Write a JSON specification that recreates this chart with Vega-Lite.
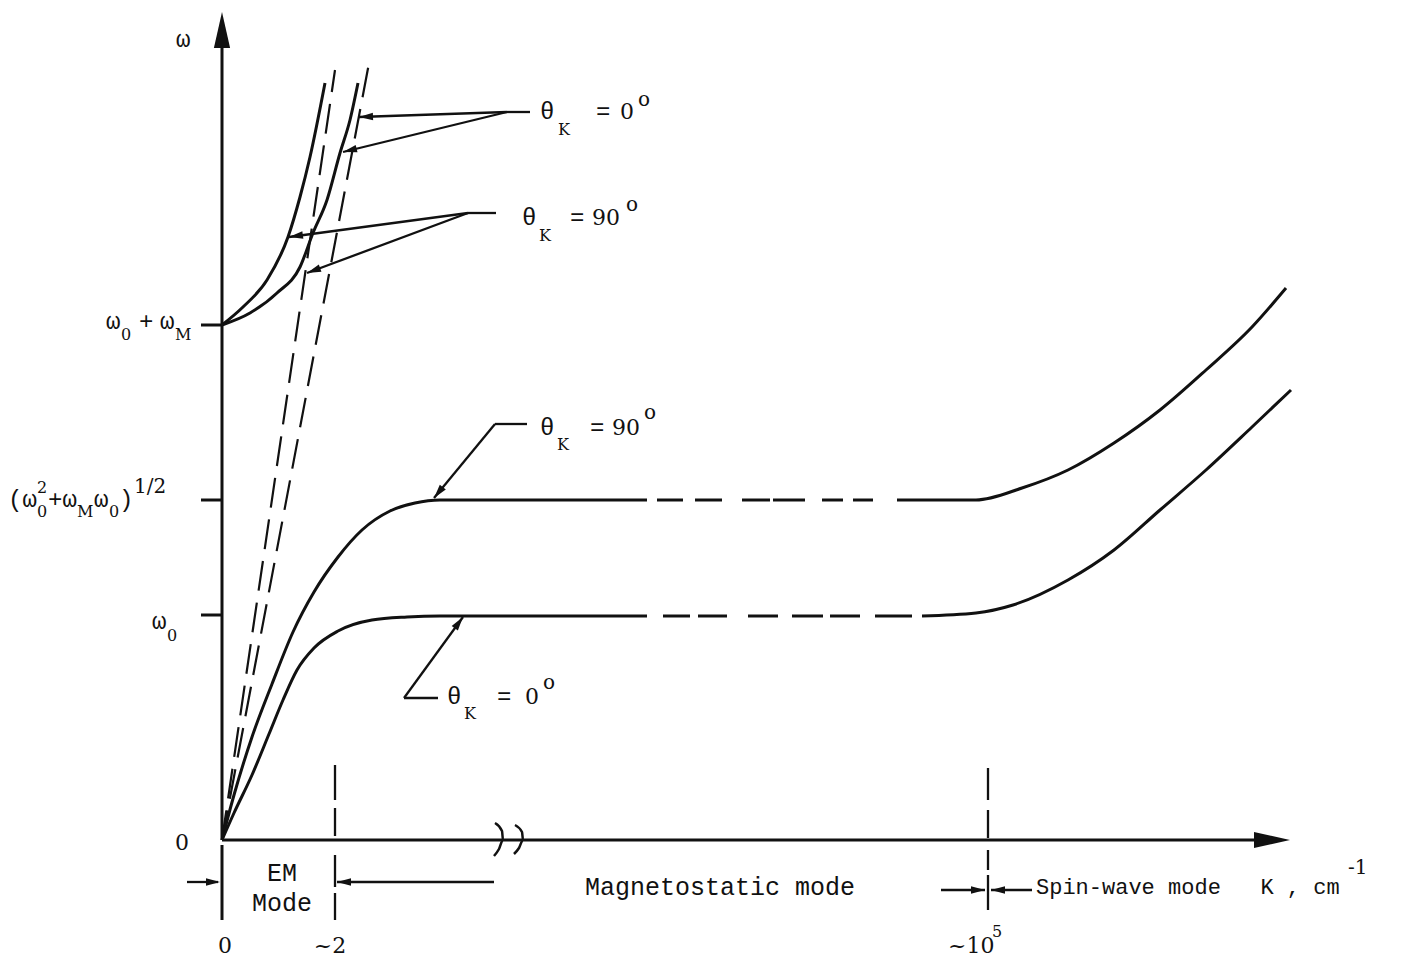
{
  "$schema": "https://vega.github.io/schema/vega-lite/v6.json",
  "width": 1421,
  "height": 962,
  "padding": 0,
  "autosize": "none",
  "background": "white",
  "config": {"view": {"stroke": null}},
  "datasets": {
    "curves": [
      {"c": "upper0", "x": 0, "y": 515}, {"c": "upper0", "x": 28, "y": 527}, {"c": "upper0", "x": 55, "y": 547}, {"c": "upper0", "x": 78, "y": 573}, {"c": "upper0", "x": 91, "y": 607}, {"c": "upper0", "x": 105, "y": 640}, {"c": "upper0", "x": 118, "y": 687}, {"c": "upper0", "x": 128, "y": 720}, {"c": "upper0", "x": 136, "y": 757},
      {"c": "upper90", "x": 0, "y": 515}, {"c": "upper90", "x": 21, "y": 533}, {"c": "upper90", "x": 45, "y": 560}, {"c": "upper90", "x": 66, "y": 603}, {"c": "upper90", "x": 78, "y": 643}, {"c": "upper90", "x": 88, "y": 683}, {"c": "upper90", "x": 103, "y": 757},
      {"c": "low90", "x": 0, "y": 0}, {"c": "low90", "x": 12, "y": 45}, {"c": "low90", "x": 30, "y": 103}, {"c": "low90", "x": 50, "y": 156}, {"c": "low90", "x": 71, "y": 208}, {"c": "low90", "x": 92, "y": 248}, {"c": "low90", "x": 116, "y": 283}, {"c": "low90", "x": 140, "y": 310}, {"c": "low90", "x": 168, "y": 329}, {"c": "low90", "x": 193, "y": 337}, {"c": "low90", "x": 218, "y": 340}, {"c": "low90", "x": 300, "y": 340}, {"c": "low90", "x": 425, "y": 340},
      {"c": "low0", "x": 0, "y": 0}, {"c": "low0", "x": 12, "y": 27}, {"c": "low0", "x": 30, "y": 65}, {"c": "low0", "x": 47, "y": 106}, {"c": "low0", "x": 61, "y": 140}, {"c": "low0", "x": 75, "y": 170}, {"c": "low0", "x": 92, "y": 192}, {"c": "low0", "x": 116, "y": 209}, {"c": "low0", "x": 150, "y": 220}, {"c": "low0", "x": 185, "y": 223}, {"c": "low0", "x": 218, "y": 224}, {"c": "low0", "x": 300, "y": 224}, {"c": "low0", "x": 425, "y": 224},
      {"c": "sw90", "x": 675, "y": 340}, {"c": "sw90", "x": 754, "y": 340}, {"c": "sw90", "x": 800, "y": 352}, {"c": "sw90", "x": 846, "y": 370}, {"c": "sw90", "x": 892, "y": 397}, {"c": "sw90", "x": 938, "y": 430}, {"c": "sw90", "x": 984, "y": 470}, {"c": "sw90", "x": 1030, "y": 513}, {"c": "sw90", "x": 1064, "y": 552},
      {"c": "sw0", "x": 700, "y": 224}, {"c": "sw0", "x": 754, "y": 227}, {"c": "sw0", "x": 791, "y": 235}, {"c": "sw0", "x": 846, "y": 260}, {"c": "sw0", "x": 892, "y": 290}, {"c": "sw0", "x": 938, "y": 330}, {"c": "sw0", "x": 984, "y": 370}, {"c": "sw0", "x": 1030, "y": 413}, {"c": "sw0", "x": 1069, "y": 450}
    ],
    "segs": [
      {"x": 0, "y": 0, "x2": 0, "y2": 800},
      {"x": 0, "y": 0, "x2": 1040, "y2": 0},
      {"x": 0, "y": -5, "x2": 0, "y2": -80},
      {"x": -21, "y": 515, "x2": 0, "y2": 515},
      {"x": -21, "y": 340, "x2": 0, "y2": 340},
      {"x": -21, "y": 225, "x2": 0, "y2": 225},
      {"x": 435, "y": 340, "x2": 461, "y2": 340},
      {"x": 473, "y": 340, "x2": 500, "y2": 340},
      {"x": 520, "y": 340, "x2": 548, "y2": 340},
      {"x": 551, "y": 340, "x2": 583, "y2": 340},
      {"x": 600, "y": 340, "x2": 621, "y2": 340},
      {"x": 631, "y": 340, "x2": 651, "y2": 340},
      {"x": 441, "y": 224, "x2": 468, "y2": 224},
      {"x": 476, "y": 224, "x2": 505, "y2": 224},
      {"x": 526, "y": 224, "x2": 556, "y2": 224},
      {"x": 570, "y": 224, "x2": 601, "y2": 224},
      {"x": 608, "y": 224, "x2": 638, "y2": 224},
      {"x": 653, "y": 224, "x2": 690, "y2": 224}
    ],
    "thin": [
      {"x": 285, "y": 728, "x2": 308, "y2": 728},
      {"x": 285, "y": 728, "x2": 137, "y2": 723},
      {"x": 285, "y": 728, "x2": 121, "y2": 688},
      {"x": 246, "y": 627, "x2": 274, "y2": 627},
      {"x": 246, "y": 627, "x2": 67, "y2": 603},
      {"x": 246, "y": 627, "x2": 85, "y2": 567},
      {"x": 273, "y": 416, "x2": 305, "y2": 416},
      {"x": 273, "y": 416, "x2": 212, "y2": 342},
      {"x": 182, "y": 142, "x2": 216, "y2": 142},
      {"x": 182, "y": 142, "x2": 241, "y2": 223},
      {"x": 113, "y": 75, "x2": 113, "y2": 40},
      {"x": 113, "y": 32, "x2": 113, "y2": 4},
      {"x": 113, "y": -15, "x2": 113, "y2": -47},
      {"x": 113, "y": -53, "x2": 113, "y2": -80},
      {"x": 766, "y": 72, "x2": 766, "y2": 40},
      {"x": 766, "y": 30, "x2": 766, "y2": 2},
      {"x": 766, "y": -10, "x2": 766, "y2": -30},
      {"x": 766, "y": -35, "x2": 766, "y2": -70},
      {"x": -35, "y": -42, "x2": -4, "y2": -42},
      {"x": 115, "y": -42, "x2": 272, "y2": -42},
      {"x": 719, "y": -50, "x2": 763, "y2": -50},
      {"x": 769, "y": -50, "x2": 810, "y2": -50}
    ],
    "emlines": [
      {"x": 0, "y": 0, "x2": 113, "y2": 770},
      {"x": 0, "y": 0, "x2": 147, "y2": 777}
    ],
    "breaks": [
      {"b": 1, "i": 1, "x": 273, "y": 17}, {"b": 1, "i": 2, "x": 280, "y": 9}, {"b": 1, "i": 3, "x": 281, "y": 0}, {"b": 1, "i": 4, "x": 277, "y": -9}, {"b": 1, "i": 5, "x": 272, "y": -16},
      {"b": 2, "i": 1, "x": 293, "y": 15}, {"b": 2, "i": 2, "x": 300, "y": 8}, {"b": 2, "i": 3, "x": 301, "y": 0}, {"b": 2, "i": 4, "x": 297, "y": -8}, {"b": 2, "i": 5, "x": 292, "y": -14}
    ],
    "heads": [
      {"x": 137, "y": 723, "dir": 178},
      {"x": 121, "y": 688, "dir": 166},
      {"x": 67, "y": 603, "dir": 172},
      {"x": 85, "y": 567, "dir": 160},
      {"x": 212, "y": 342, "dir": 129},
      {"x": 241, "y": 223, "dir": 306},
      {"x": -2, "y": -42, "dir": 0},
      {"x": 115, "y": -42, "dir": 180},
      {"x": 763, "y": -50, "dir": 0},
      {"x": 769, "y": -50, "dir": 180}
    ],
    "axisheads": [
      {"x": 0, "y": 828, "dir": 270},
      {"x": 1068, "y": 0, "dir": 0}
    ],
    "monoL": [
      {"t": "ω", "x": -46, "y": 800},
      {"t": "ω", "x": -116, "y": 518},
      {"t": "+", "x": -83, "y": 518},
      {"t": "ω", "x": -62, "y": 518},
      {"t": "(ω", "x": -214, "y": 340},
      {"t": "+ω", "x": -174, "y": 340},
      {"t": "ω", "x": -128, "y": 340},
      {"t": ")", "x": -103, "y": 340},
      {"t": "ω", "x": -70, "y": 218},
      {"t": "θ", "x": 318, "y": 728},
      {"t": "=", "x": 374, "y": 728},
      {"t": "θ", "x": 300, "y": 622},
      {"t": "=", "x": 348, "y": 622},
      {"t": "θ", "x": 318, "y": 412},
      {"t": "=", "x": 368, "y": 412},
      {"t": "θ", "x": 225, "y": 143},
      {"t": "=", "x": 275, "y": 143}
    ],
    "serifL": [
      {"t": "0", "x": 398, "y": 728},
      {"t": "90", "x": 370, "y": 622},
      {"t": "90", "x": 390, "y": 412},
      {"t": "0", "x": 303, "y": 143},
      {"t": "~10", "x": 726, "y": -106}
    ],
    "serifC": [
      {"t": "0", "x": -40, "y": -3},
      {"t": "0", "x": 3, "y": -106},
      {"t": "~2", "x": 108, "y": -106}
    ],
    "monoC": [
      {"t": "EM", "x": 60, "y": -33},
      {"t": "Mode", "x": 60, "y": -63},
      {"t": "Magnetostatic mode", "x": 498, "y": -47}
    ],
    "spin": [
      {"t": "Spin-wave mode\u00a0\u00a0\u00a0K\u00a0,\u00a0cm", "x": 814, "y": -47}
    ],
    "small": [
      {"t": "0", "x": -101, "y": 505},
      {"t": "M", "x": -47, "y": 505},
      {"t": "2", "x": -185, "y": 352},
      {"t": "0", "x": -185, "y": 328},
      {"t": "M", "x": -145, "y": 328},
      {"t": "0", "x": -113, "y": 328},
      {"t": "0", "x": -55, "y": 204},
      {"t": "K", "x": 336, "y": 710},
      {"t": "K", "x": 317, "y": 604},
      {"t": "K", "x": 335, "y": 395},
      {"t": "K", "x": 242, "y": 126},
      {"t": "5", "x": 770, "y": -92}
    ],
    "mid": [
      {"t": "1/2", "x": -88, "y": 353},
      {"t": "o", "x": 416, "y": 740},
      {"t": "o", "x": 404, "y": 635},
      {"t": "o", "x": 422, "y": 427},
      {"t": "o", "x": 321, "y": 157},
      {"t": "-1", "x": 1126, "y": -28}
    ]
  },
  "encoding": {
    "x": {"field": "x", "type": "quantitative", "scale": {"domain": [-222, 1199], "nice": false, "zero": false}, "axis": null},
    "y": {"field": "y", "type": "quantitative", "scale": {"domain": [-122, 840], "nice": false, "zero": false}, "axis": null}
  },
  "layer": [
    {
      "data": {"name": "emlines"},
      "mark": {"type": "rule", "color": "#111", "strokeWidth": 2.2, "strokeDash": [30, 12]},
      "encoding": {"x2": {"field": "x2"}, "y2": {"field": "y2"}}
    },
    {
      "data": {"name": "curves"},
      "mark": {"type": "line", "interpolate": "monotone", "color": "#111", "strokeWidth": 3},
      "encoding": {"detail": {"field": "c", "type": "nominal"}}
    },
    {
      "data": {"name": "segs"},
      "mark": {"type": "rule", "color": "#111", "strokeWidth": 3},
      "encoding": {"x2": {"field": "x2"}, "y2": {"field": "y2"}}
    },
    {
      "data": {"name": "thin"},
      "mark": {"type": "rule", "color": "#111", "strokeWidth": 2.3},
      "encoding": {"x2": {"field": "x2"}, "y2": {"field": "y2"}}
    },
    {
      "data": {"name": "breaks"},
      "mark": {"type": "line", "interpolate": "monotone", "color": "#111", "strokeWidth": 2.5},
      "encoding": {"detail": {"field": "b", "type": "nominal"}, "order": {"field": "i", "type": "quantitative"}}
    },
    {
      "data": {"name": "heads"},
      "mark": {"type": "point", "shape": "M0,0L-2,-0.55L-2,0.55Z", "filled": true, "size": 196, "color": "#111", "opacity": 1, "strokeWidth": 0},
      "encoding": {"angle": {"field": "dir", "type": "quantitative", "scale": null}}
    },
    {
      "data": {"name": "axisheads"},
      "mark": {"type": "point", "shape": "M0,0L-2,-0.45L-2,0.45Z", "filled": true, "size": 1296, "color": "#111", "opacity": 1, "strokeWidth": 0},
      "encoding": {"angle": {"field": "dir", "type": "quantitative", "scale": null}}
    },
    {
      "data": {"name": "monoL"},
      "mark": {"type": "text", "align": "left", "baseline": "middle", "font": "Liberation Mono", "fontSize": 24, "color": "#111"},
      "encoding": {"text": {"field": "t", "type": "nominal"}}
    },
    {
      "data": {"name": "serifL"},
      "mark": {"type": "text", "align": "left", "baseline": "middle", "font": "DejaVu Serif", "fontSize": 22, "color": "#111"},
      "encoding": {"text": {"field": "t", "type": "nominal"}}
    },
    {
      "data": {"name": "serifC"},
      "mark": {"type": "text", "align": "center", "baseline": "middle", "font": "DejaVu Serif", "fontSize": 22, "color": "#111"},
      "encoding": {"text": {"field": "t", "type": "nominal"}}
    },
    {
      "data": {"name": "monoC"},
      "mark": {"type": "text", "align": "center", "baseline": "middle", "font": "Liberation Mono", "fontSize": 25, "color": "#111"},
      "encoding": {"text": {"field": "t", "type": "nominal"}}
    },
    {
      "data": {"name": "spin"},
      "mark": {"type": "text", "align": "left", "baseline": "middle", "font": "Liberation Mono", "fontSize": 22, "color": "#111"},
      "encoding": {"text": {"field": "t", "type": "nominal"}}
    },
    {
      "data": {"name": "small"},
      "mark": {"type": "text", "align": "left", "baseline": "middle", "font": "DejaVu Serif", "fontSize": 16, "color": "#111"},
      "encoding": {"text": {"field": "t", "type": "nominal"}}
    },
    {
      "data": {"name": "mid"},
      "mark": {"type": "text", "align": "left", "baseline": "middle", "font": "DejaVu Serif", "fontSize": 20, "color": "#111"},
      "encoding": {"text": {"field": "t", "type": "nominal"}}
    }
  ]
}
